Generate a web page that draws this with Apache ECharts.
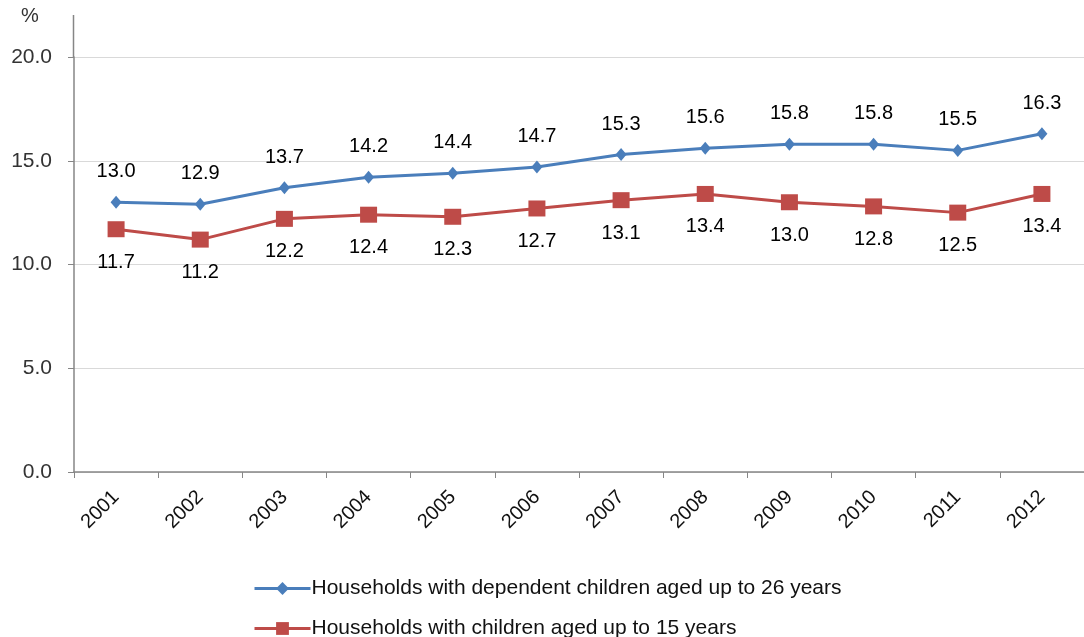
<!DOCTYPE html>
<html>
<head>
<meta charset="utf-8">
<script src="https://cdn.jsdelivr.net/npm/echarts@6/dist/echarts.min.js"></script>
<style>html,body{margin:0;padding:0;background:#fff}#c{width:1084px;height:637px}</style>
</head>
<body>
<div id="c"></div>
<script>
const years = ['2001','2002','2003','2004','2005','2006','2007','2008','2009','2010','2011','2012'];
const dependentUpTo26 = [13.0,12.9,13.7,14.2,14.4,14.7,15.3,15.6,15.8,15.8,15.5,16.3];
const childrenUpTo15 = [11.7,11.2,12.2,12.4,12.3,12.7,13.1,13.4,13.0,12.8,12.5,13.4];
const seriesNames = ['Households with dependent children aged up to 26 years','Households with children aged up to 15 years'];
const yTicks = {min:0, max:20, interval:5};

const chart = echarts.init(document.getElementById('c'));
const font = 'Liberation Sans, Arial, sans-serif';
const legendCommon = {
  orient:'horizontal', left:253, itemWidth:56, itemHeight:16, padding:0,
  lineStyle:{width:3},
  textStyle:{fontSize:21, color:'#111', fontFamily:font, padding:[0,0,0,-4]}
};
chart.setOption({
  animation:false,
  textStyle:{fontFamily:font},
  grid:{left:74, top:57, bottom:165, width:1012},
  graphic:[
    {type:'text', left:21, top:6, style:{text:'%', fontSize:20, fill:'#333', fontFamily:font}},
    {type:'line', shape:{x1:73.5,y1:15,x2:73.5,y2:57}, style:{stroke:'#868686', lineWidth:1.5}}
  ],
  xAxis:{
    type:'category', data:years, boundaryGap:true,
    axisLine:{lineStyle:{color:'#868686', width:1.5}},
    axisTick:{show:true, length:6, alignWithLabel:false, lineStyle:{color:'#868686'}},
    axisLabel:{rotate:45, fontSize:20, color:'#111', margin:22, fontFamily:font}
  },
  yAxis:{
    type:'value', min:yTicks.min, max:yTicks.max, interval:yTicks.interval,
    axisLine:{show:true, lineStyle:{color:'#868686', width:1.5}},
    axisTick:{show:true, length:6, lineStyle:{color:'#868686'}},
    axisLabel:{fontSize:21, color:'#333', margin:22, formatter:v=>v.toFixed(1), fontFamily:font},
    splitLine:{lineStyle:{color:'#d9d9d9'}}
  },
  legend:[
    Object.assign({}, legendCommon, {top:578, data:[seriesNames[0]]}),
    Object.assign({}, legendCommon, {top:618, data:[seriesNames[1]]})
  ],
  series:[
    {name:seriesNames[0], type:'line', data:dependentUpTo26, symbol:'diamond', symbolSize:[11,13],
     lineStyle:{color:'#4a7ebb', width:3}, itemStyle:{color:'#4a7ebb'},
     label:{show:true, position:'top', distance:14, fontSize:20, color:'#000', formatter:p=>p.value.toFixed(1), fontFamily:font}},
    {name:seriesNames[1], type:'line', data:childrenUpTo15, symbol:'rect', symbolSize:[17,16],
     lineStyle:{color:'#be4b48', width:3}, itemStyle:{color:'#be4b48'},
     label:{show:true, position:'bottom', distance:15, fontSize:20, color:'#000', formatter:p=>p.value.toFixed(1), fontFamily:font}}
  ]
});
</script>
</body>
</html>
